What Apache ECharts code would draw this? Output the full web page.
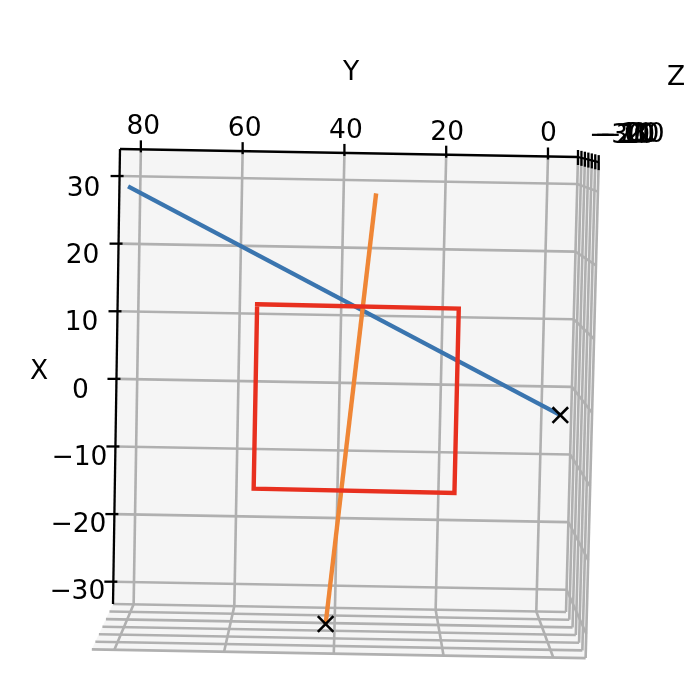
<!DOCTYPE html>
<html><head><meta charset="utf-8">
<style>html,body{margin:0;padding:0;background:#fff}#c{width:700px;height:686px}</style>
<script src="https://cdn.jsdelivr.net/npm/echarts@6/dist/echarts.min.js"></script>
</head><body><div id="c"></div>
<script>
// Tick values of the three axes
const yTicks = [80, 60, 40, 20, 0];
const xTicks = [30, 20, 10, 0, -10, -20, -30];
const zTicks = [-30, -20, -10, 0, 10, 20, 30];
// Axis limits
const yLeft = 84.1, yRight = -5.9, xTop = 34, xBot = -33.3, zBack = -30, zFront = 30;
// Series, as 3D values
const blueX = [28.5, -0.4], blueY = [82.4, -0.15], blueZ = [-30, 30];
const orangeX = [28.1, -29.3], orangeY = [33.6, 41.6], orangeZ = [-30, 30];
const redX = [12.7, 12.6, -13.5, -13.4, 12.7], redY = [55.85, 17.8, 17.8, 55.85, 55.85], redZ = [0, 0, 0, 0, 0];
const fmt = v => String(v).replace('-', '\u2212');

// Camera of the plot: back wall corners, vanishing point, near-plane scale
const TL = [120, 149], TR = [578, 157], BR = [566, 612], BL = [113, 604], VP = [348, 100], NEAR = 1.09;
function project(X, Y, Z) {
  const u = (Y - yLeft) / (yRight - yLeft), v = (xTop - X) / (xTop - xBot), t = (Z - zBack) / (zFront - zBack);
  const top = [TL[0] + (TR[0] - TL[0]) * u, TL[1] + (TR[1] - TL[1]) * u];
  const bot = [BL[0] + (BR[0] - BL[0]) * u, BL[1] + (BR[1] - BL[1]) * u];
  const p = [top[0] + (bot[0] - top[0]) * v, top[1] + (bot[1] - top[1]) * v];
  const s = 1 + (NEAR - 1) * t;
  return [VP[0] + s * (p[0] - VP[0]), VP[1] + s * (p[1] - VP[1])];
}
const lineOf = (xs, ys, zs) => xs.map((x, i) => project(x, ys[i], zs[i]));

// Panes as polygons of 3D corners
const panes = [
  [[xTop, yLeft, zBack], [xTop, yRight, zBack], [xBot, yRight, zBack], [xBot, yLeft, zBack]],
  [[xBot, yLeft, zBack - 1], [xBot, yRight, zBack - 1], [xBot, yRight, zFront + 1], [xBot, yLeft, zFront + 1]],
  [[xTop, yRight, zBack - 1], [xTop, yRight, zFront + 1], [xBot, yRight, zFront + 1], [xBot, yRight, zBack - 1]]
];
// Grid segments
const gridRows = [];
xTicks.forEach(x => { gridRows.push([x, yLeft, zBack, x, yRight, zBack], [x, yRight, zBack, x, yRight, zFront]); });
yTicks.forEach(y => { gridRows.push([xTop, y, zBack, xBot, y, zBack], [xBot, y, zBack, xBot, y, zFront]); });
zTicks.forEach(z => { gridRows.push([xBot, yLeft, z, xBot, yRight, z], [xTop, yRight, z, xBot, yRight, z]); });
const axisRows = [
  [xTop, yLeft, zBack, xTop, yRight, zBack],
  [xTop, yLeft, zBack, xBot, yLeft, zBack],
  [xTop, yRight, zBack, xTop, yRight, zFront]
];
const FONT = '26.5px "DejaVu Sans"';
// Tick marks: [anchor, dx0, dy0, dx1, dy1]
const tickRows = [];
yTicks.forEach(y => tickRows.push([...project(xTop, y, zBack), 0, -9, 0, 3]));
xTicks.forEach(x => tickRows.push([...project(x, yLeft, zBack), -9, 0, 4, 0]));
zTicks.forEach(z => tickRows.push([...project(xTop, yRight, z), 0, -7, 0, 8]));
// Labels
const textRows = [];
yTicks.forEach(y => { const p = project(xTop, y, zBack); textRows.push([p[0] + 2.5 - (80 - y) / 80 * 2, p[1] - 22, fmt(y)]); });
xTicks.forEach(x => { const p = project(x, yLeft, zBack); textRows.push([p[0] - 36, p[1] + 13 - (30 - x) / 60 * 2.5, fmt(x)]); });
zTicks.forEach(z => { const p = project(xTop, yRight, z); const t = (z - zBack) / (zFront - zBack); textRows.push([p[0] + 39 + 10 * t, p[1] - 21 - 6 * t, fmt(z)]); });
textRows.push([351, 73, 'Y'], [676, 78, 'Z'], [39, 372, 'X']);

const rowSeries = (name, rows, color, width, z) => ({
  type: 'custom', name, coordinateSystem: 'cartesian2d', silent: true, z, data: rows, clip: false,
  renderItem(params, api) {
    const a = api.coord(project(api.value(0), api.value(1), api.value(2)));
    const b = api.coord(project(api.value(3), api.value(4), api.value(5)));
    return { type: 'line', shape: { x1: a[0], y1: a[1], x2: b[0], y2: b[1] }, style: { stroke: color, lineWidth: width, fill: null } };
  }
});
const line = (name, pts, color, z, cap) => ({
  type: 'line', name, data: pts, showSymbol: false, symbol: 'none', z, animation: false, clip: false, silent: true,
  lineStyle: { color, width: 4.4, cap, join: 'miter' }
});

const chart = echarts.init(document.getElementById('c'), null, { renderer: 'canvas' });
chart.setOption({
  animation: false,
  backgroundColor: '#fff',
  grid: { left: 0, right: 0, top: 0, bottom: 0, containLabel: false },
  xAxis: { type: 'value', min: 0, max: 700, show: false },
  yAxis: { type: 'value', min: 0, max: 686, inverse: true, show: false },
  series: [
    { type: 'custom', name: 'panes', coordinateSystem: 'cartesian2d', silent: true, z: 1, clip: false,
      data: panes.map((_, i) => [i]),
      renderItem(params, api) {
        const pts = panes[api.value(0)].map(c => api.coord(project(c[0], c[1], c[2])));
        return { type: 'polygon', shape: { points: pts }, style: { fill: '#f5f5f5' } };
      } },
    rowSeries('grid', gridRows, '#b0b0b0', 2.6, 2),
    rowSeries('axes', axisRows, '#000', 2.3, 3),
    { type: 'custom', name: 'ticks', coordinateSystem: 'cartesian2d', silent: true, z: 4, clip: false, data: tickRows,
      renderItem(params, api) {
        const a = api.coord([api.value(0), api.value(1)]);
        return { type: 'line', shape: { x1: a[0] + api.value(2), y1: a[1] + api.value(3), x2: a[0] + api.value(4), y2: a[1] + api.value(5) }, style: { stroke: '#000', lineWidth: 2.3 } };
      } },
    line('blue', lineOf(blueX, blueY, blueZ), '#3a75af', 5, 'butt'),
    line('orange', lineOf(orangeX, orangeY, orangeZ), '#ef8636', 6, 'butt'),
    line('red', lineOf(redX, redY, redZ), '#e8301f', 7, 'square'),
    { type: 'custom', name: 'markers', coordinateSystem: 'cartesian2d', silent: true, z: 8, clip: false,
      data: [lineOf(blueX, blueY, blueZ)[1], lineOf(orangeX, orangeY, orangeZ)[1]],
      renderItem(params, api) {
        const c = api.coord([api.value(0), api.value(1)]), r = 7.8;
        return { type: 'group', children: [
          { type: 'line', shape: { x1: c[0] - r, y1: c[1] - r, x2: c[0] + r, y2: c[1] + r }, style: { stroke: '#000', lineWidth: 2.6 } },
          { type: 'line', shape: { x1: c[0] - r, y1: c[1] + r, x2: c[0] + r, y2: c[1] - r }, style: { stroke: '#000', lineWidth: 2.6 } }
        ] };
      } },
    { type: 'custom', name: 'labels', coordinateSystem: 'cartesian2d', silent: true, z: 9, clip: false, data: textRows,
      encode: { x: 0, y: 1 },
      renderItem(params, api) {
        const c = api.coord([api.value(0), api.value(1)]);
        return { type: 'text', style: { text: textRows[params.dataIndex][2], x: c[0], y: c[1], font: FONT, fill: '#000', textAlign: 'center', textVerticalAlign: 'middle' } };
      } }
  ]
});
</script></body></html>
